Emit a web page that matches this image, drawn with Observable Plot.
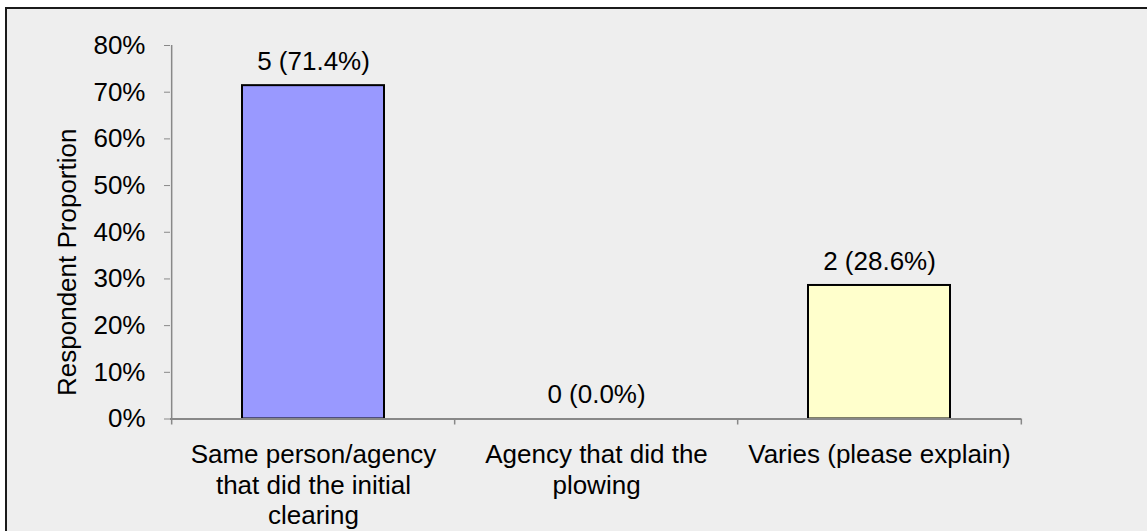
<!DOCTYPE html>
<html>
<head>
<meta charset="utf-8">
<script src="https://cdn.jsdelivr.net/npm/d3@7"></script>
<script src="https://cdn.jsdelivr.net/npm/@observablehq/plot@0.6"></script>
<style>
  html, body { margin: 0; padding: 0; background: #ffffff; }
  #wrap { position: relative; width: 1147px; height: 531px; overflow: hidden; }
  #panel { position: absolute; left: 5px; top: 7px; width: 1300px; height: 700px;
           background: #eeeeee; border-top: 2px solid #1a1a1a; border-left: 2px solid #1a1a1a; }
  #chart { position: absolute; left: 0; top: 0; }
</style>
</head>
<body>
<div id="wrap">
  <div id="panel"></div>
  <div id="chart"></div>
</div>
<script>
const categories = ["Same person/agency that did the initial clearing", "Agency that did the plowing", "Varies (please explain)"];
const xTickLabels = ["Same person/agency\nthat did the initial\nclearing", "Agency that did the\nplowing", "Varies (please explain)"];
const counts = [5, 0, 2];
const proportions = [0.714, 0.0, 0.286];
const barColors = ["#9999ff", "#ffffff", "#ffffcc"];
const yTicks = [0, 0.1, 0.2, 0.3, 0.4, 0.5, 0.6, 0.7, 0.8];
const yTitle = "Respondent Proportion";

const W = 1147, H = 531, mL = 170, mR = 126, mT = 45, mB = 112.5;
const step = (W - mL - mR) / categories.length;

const data = categories.map((c, i) => ({
  category: c, count: counts[i], proportion: proportions[i], color: barColors[i],
  label: `${counts[i]} (${(proportions[i] * 100).toFixed(1)}%)`
}));

const chart = Plot.plot({
  width: W, height: H,
  marginLeft: mL, marginRight: mR, marginTop: mT, marginBottom: mB,
  style: { background: "transparent", fontFamily: "Arial, 'Liberation Sans', sans-serif", fontSize: "26px", color: "#000", overflow: "visible" },
  x: { domain: categories, paddingInner: 0.5, paddingOuter: 0.25, axis: null },
  y: { domain: [0, 0.8], axis: null },
  marks: [
    Plot.barY(data.filter(d => d.proportion > 0), { x: "category", y: "proportion", fill: "color", stroke: "#000", strokeWidth: 2 }),
    Plot.ruleX([categories[0]], { x: d => d, y1: 0, y2: 0.8, dx: -step / 2, stroke: "#888", strokeWidth: 1.5 }),
    Plot.ruleY([0], { stroke: "#888", strokeWidth: 2 }),
    Plot.ruleX(categories, { x: d => d, y1: 0, y2: 0, insetBottom: -6, dx: -step / 2, stroke: "#888", strokeWidth: 1.5 }),
    Plot.ruleX([categories[categories.length - 1]], { x: d => d, y1: 0, y2: 0, insetBottom: -6, dx: step / 2, stroke: "#888", strokeWidth: 1.5 }),
    Plot.axisY({ ticks: yTicks, tickFormat: d => Math.round(d * 100) + "%", tickSize: 6, tickPadding: 19, stroke: "#888", color: "#000", label: null }),
    Plot.axisX({ tickSize: 0, tickPadding: 23, tickFormat: d => xTickLabels[categories.indexOf(d)], lineHeight: 1.16, color: "#000", label: null }),
    Plot.text(data, { x: "category", y: "proportion", text: "label", dy: -24, fill: "#000" }),
    Plot.text([yTitle], { frameAnchor: "left", textAnchor: "middle", rotate: -90, dx: -103, dy: 30, fill: "#000" })
  ]
});
document.getElementById("chart").appendChild(chart);
</script>
</body>
</html>
